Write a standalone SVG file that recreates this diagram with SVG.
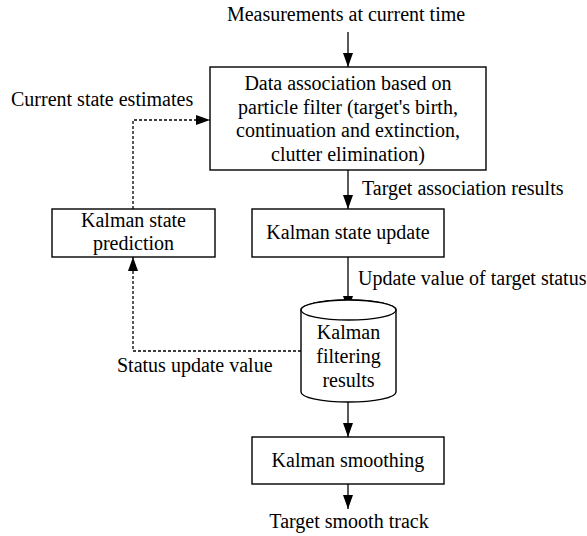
<svg xmlns="http://www.w3.org/2000/svg" width="587" height="536" viewBox="0 0 587 536">
  <style>
    .box { fill: #ffffff; stroke: #000000; stroke-width: 1.4; }
    .txt { font-family: "Liberation Serif", "Times New Roman", serif; font-size: 20px; fill: #000000; }
    .mid { text-anchor: middle; }
    .flow { fill: none; stroke: #000000; stroke-width: 1.3; }
    .dash { stroke-dasharray: 3 2; }
  </style>
  <defs>
    <marker id="arrow" markerUnits="userSpaceOnUse" markerWidth="10" markerHeight="14" viewBox="0 0 10 14" refX="10" refY="5" orient="auto">
      <path d="M0,0 L10,5 L0,10 Z" fill="#000000"/>
    </marker>
    <marker id="arrowLong" markerUnits="userSpaceOnUse" markerWidth="14" markerHeight="10" viewBox="0 0 14 10" refX="14" refY="5" orient="auto">
      <path d="M0,0 L14,5 L0,10 Z" fill="#000000"/>
    </marker>
  </defs>

  <!-- connectors -->
  <g id="connectors">
    <line class="flow" x1="348" y1="32" x2="348" y2="67" marker-end="url(#arrowLong)"/>
    <line class="flow" x1="348" y1="170" x2="348" y2="209" marker-end="url(#arrowLong)"/>
    <line class="flow" x1="348" y1="257" x2="348" y2="310" marker-end="url(#arrowLong)"/>
    <line class="flow" x1="348" y1="402" x2="348" y2="437" marker-end="url(#arrowLong)"/>
    <line class="flow" x1="348" y1="484" x2="348" y2="509" marker-end="url(#arrowLong)"/>
    <polyline class="flow dash" points="133,209 133,120 210,120" marker-end="url(#arrowLong)"/>
    <polyline class="flow dash" points="301,351 133,351 133,257" marker-end="url(#arrowLong)"/>
  </g>

  <!-- connector labels -->
  <g id="labels">
    <text class="txt mid" x="346" y="21">Measurements at current time</text>
    <text class="txt" x="11" y="106">Current state estimates</text>
    <text class="txt" x="362" y="195">Target association results</text>
    <text class="txt" x="358" y="285">Update value of target status</text>
    <text class="txt" x="117" y="372">Status update value</text>
    <text class="txt mid" x="349" y="528">Target smooth track</text>
  </g>

  <g id="data-association">
    <rect class="box" x="210" y="67" width="276" height="103"/>
    <text class="txt mid" x="348" y="90">Data association based on</text>
    <text class="txt mid" x="348" y="114">particle filter (target's birth,</text>
    <text class="txt mid" x="348" y="137">continuation and extinction,</text>
    <text class="txt mid" x="348" y="161">clutter elimination)</text>
  </g>

  <g id="state-prediction">
    <rect class="box" x="52" y="209" width="163" height="48"/>
    <text class="txt mid" x="133.5" y="227">Kalman state</text>
    <text class="txt mid" x="133.5" y="250">prediction</text>
  </g>

  <g id="state-update">
    <rect class="box" x="252" y="209" width="192" height="48"/>
    <text class="txt mid" x="348" y="239">Kalman state update</text>
  </g>

  <g id="filtering-results">
    <path class="box" d="M301,310 L301,392 A47.5,10 0 0 0 396,392 L396,310 A47.5,10 0 0 0 301,310 Z"/>
    <ellipse class="box" cx="348.5" cy="310" rx="47.5" ry="10" fill="none"/>
    <text class="txt mid" x="348.5" y="339">Kalman</text>
    <text class="txt mid" x="348.5" y="363">filtering</text>
    <text class="txt mid" x="348.5" y="387">results</text>
  </g>

  <g id="smoothing">
    <rect class="box" x="252" y="437" width="192" height="47"/>
    <text class="txt mid" x="348" y="467">Kalman smoothing</text>
  </g>
</svg>
